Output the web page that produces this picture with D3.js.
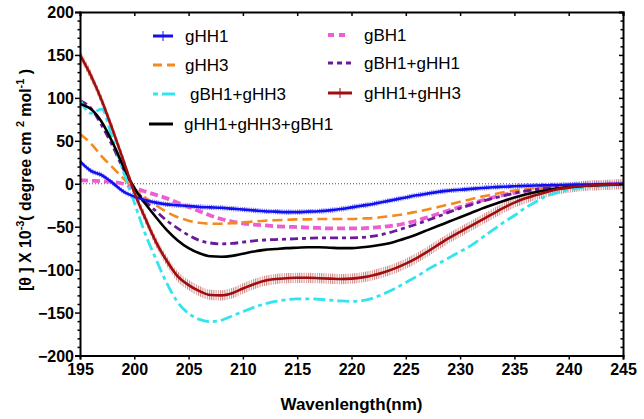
<!DOCTYPE html>
<html><head><meta charset="utf-8">
<script src="https://cdn.jsdelivr.net/npm/d3@7"></script>
<style>body{margin:0;background:#fff} svg{display:block} text{font-family:"Liberation Sans",Arial,sans-serif}</style>
</head><body><svg id="c" width="644" height="419"></svg>
<script>
const wavelength = [195,196,197,198,199,200,201,202,203,204,205,206,207,208,209,210,211,212,213,214,215,216,217,218,219,220,221,222,223,224,225,226,227,228,229,230,231,232,233,234,235,236,237,238,239,240,241,242,243,244,245];
const gHH1 = [26,15,10,1,-9,-15,-19,-22,-24,-25,-26,-27,-27.5,-28,-29,-30,-31,-32,-32.5,-33,-33,-32.5,-32,-31,-29.5,-27.5,-25.5,-23.5,-21,-18.5,-16,-13.5,-11.5,-9.5,-8,-7,-6,-5,-4,-3.5,-3,-2.5,-2,-1.8,-1.5,-1.2,-1,-0.8,-0.5,-0.3,0];
const gHH3 = [58,47,32,19,6,-6,-16,-25,-33,-39,-43,-45.5,-46.5,-46.5,-46,-45,-44,-43,-42.5,-42,-41.5,-41.5,-41,-41,-41,-41,-40.5,-40,-38.5,-37,-35,-32.5,-30,-27,-24,-21,-18,-15,-12.5,-10,-8,-6.5,-5,-4,-3,-2,-1.5,-1,-0.5,-0.3,0];
const gBH1_gHH3 = [98,82,87,52,14,-22,-58,-88,-116,-138,-151,-158,-160.5,-159,-154,-149,-144,-140,-137,-135,-134,-134,-134.5,-135.5,-136.5,-137,-136,-133,-128,-122,-115,-108,-100,-93,-86,-79,-72,-63,-54,-45,-37,-28,-21,-14,-10,-7,-5,-3.5,-2.5,-1.5,-1];
const gHH1_gHH3_gBH1 = [93,87,72,48,20,-5,-23,-39,-54,-66,-75,-81,-84.5,-85,-84,-81.5,-79,-77,-76,-75,-74.5,-74,-74,-74.5,-75,-75,-74,-72.5,-70.5,-67.5,-63.5,-59,-54,-49,-44,-39,-34,-29,-24.5,-20,-16,-12.5,-9.5,-7.5,-5.5,-4,-3,-2,-1.5,-1,-0.5];
const gBH1 = [4,3.5,3,2,0,-5,-9,-13,-17,-22,-27,-32,-37,-41,-44,-46,-47.5,-48.5,-49.5,-50,-50.5,-51,-51.5,-52,-52,-52,-52,-51,-50,-48.5,-46,-43,-39,-35,-31,-27,-23,-19.5,-16,-13,-10.5,-8,-6.5,-5,-3.5,-2.5,-2,-1.5,-1,-0.5,0];
const gBH1_gHH1 = [97,88,68,44,17,-5,-20,-32,-43,-52,-60,-66,-69,-70,-69.5,-68,-66.5,-65.5,-65,-64.5,-64,-63.5,-63,-63,-63,-63,-62.5,-61,-58.5,-55,-51,-47,-42.5,-38,-33,-28.5,-24.5,-20.5,-17,-14,-11,-8.5,-6.5,-5,-3.5,-2.5,-2,-1.5,-1,-0.5,0];
const gHH1_gHH3 = [150,126,97,63,27,-10,-40,-68,-90,-108,-118,-125,-129.5,-130,-127.5,-122,-117,-113,-111,-110,-109.5,-109.5,-110,-110.5,-111,-110.5,-109,-106.5,-103,-98.5,-93,-86.5,-79,-71,-63,-56,-49,-42,-35,-28,-22,-17,-13,-9.5,-6.5,-4.5,-3,-2,-1.5,-1,-0.5];
const gHH1_err = 3;
const gHH1_gHH3_err = 6;
const xTicks = [195,200,205,210,215,220,225,230,235,240,245];
const yTicks = [-200,-150,-100,-50,0,50,100,150,200];
const yMinor = [-190,-180,-170,-160,-140,-130,-120,-110,-90,-80,-70,-60,-40,-30,-20,-10,10,20,30,40,60,70,80,90,110,120,130,140,160,170,180,190];
const seriesNames = ["gHH1","gHH3","gBH1+gHH3","gHH1+gHH3+gBH1","gBH1","gBH1+gHH1","gHH1+gHH3"];

const svg = d3.select("#c");
const L=80,R=623,T=12,B=355.5;
const x = d3.scaleLinear([195,245],[L,R]);
const y = d3.scaleLinear([-200,200],[B,T]);

const defs = svg.append("defs");
function hatch(id,color){
  const p = defs.append("pattern").attr("id",id).attr("width",2.2).attr("height",6).attr("patternUnits","userSpaceOnUse");
  p.append("rect").attr("width",1).attr("height",6).attr("fill",color);
}
hatch("hb","#7575ff");
hatch("hr","#d08585");

// zero line
svg.append("line").attr("x1",L).attr("x2",R).attr("y1",y(0)).attr("y2",y(0))
  .attr("stroke","#555").attr("stroke-width",1).attr("stroke-dasharray","1,2");

const data = arr => arr.map((v,i)=>({w:wavelength[i],v}));
const line = d3.line().x(d=>x(d.w)).y(d=>y(d.v)).curve(d3.curveMonotoneX);
const area = e => d3.area().x(d=>x(d.w)).y0(d=>y(d.v-e)).y1(d=>y(d.v+e)).curve(d3.curveMonotoneX);

const styles = [
  {vals:gHH1, color:"#1010f0", w:2.6, dash:null},
  {vals:gHH3, color:"#f4891f", w:2.6, dash:"10,5"},
  {vals:gBH1_gHH3, color:"#33e3ee", w:2.8, dash:"12,4,4,4"},
  {vals:gHH1_gHH3_gBH1, color:"#000000", w:2.6, dash:null},
  {vals:gBH1, color:"#ec5ed2", w:3.8, dash:"8,4"},
  {vals:gBH1_gHH1, color:"#6a1a9a", w:2.8, dash:"8,4,4,4"},
  {vals:gHH1_gHH3, color:"#a00d0d", w:2.6, dash:null}
];

svg.append("path").attr("d",area(gHH1_gHH3_err)(data(gHH1_gHH3))).attr("fill","url(#hr)");
svg.append("path").attr("d",area(gHH1_err)(data(gHH1))).attr("fill","url(#hb)");

const order = [4,1,5,2,3,0,6];
order.forEach(i=>{
  const s = styles[i];
  svg.append("path").attr("d",line(data(s.vals))).attr("fill","none")
    .attr("stroke",s.color).attr("stroke-width",s.w)
    .attr("stroke-dasharray",s.dash);
});

// axes
const fontB = g => g.selectAll("text").attr("font-weight","bold").attr("font-size","16px").attr("fill","#000");
const gx = svg.append("g").attr("transform",`translate(0,${B})`)
  .call(d3.axisBottom(x).tickValues(xTicks).tickSize(4).tickPadding(4).tickFormat(d3.format("d")));
fontB(gx);
const gy = svg.append("g").attr("transform",`translate(${L},0)`)
  .call(d3.axisLeft(y).tickValues(yTicks).tickSize(5).tickPadding(1).tickFormat(d3.format("d")));
fontB(gy);
gy.selectAll("text").attr("dy","0.36em");
svg.append("g").attr("transform",`translate(${L},0)`)
  .call(d3.axisLeft(y).tickValues(yMinor).tickSize(2.5).tickFormat("")).select(".domain").remove();
svg.append("g").attr("transform",`translate(0,${T})`)
  .call(d3.axisTop(x).tickValues(xTicks).tickSize(-4).tickFormat(""));
svg.append("g").attr("transform",`translate(${R},0)`)
  .call(d3.axisRight(y).tickValues(yTicks).tickSize(-4).tickFormat(""));
svg.append("g").attr("transform",`translate(${R},0)`)
  .call(d3.axisRight(y).tickValues(yMinor).tickSize(-2.5).tickFormat("")).select(".domain").remove();
svg.selectAll(".domain").attr("stroke","#000").attr("stroke-width",2);
svg.selectAll(".tick line").attr("stroke","#000").attr("stroke-width",1.5);

// axis titles
svg.append("text").attr("x",(L+R)/2).attr("y",410).attr("text-anchor","middle")
  .attr("font-weight","bold").attr("font-size","17px").text("Wavenlength(nm)");
const yt = svg.append("text").attr("transform","translate(31,180) rotate(-90)").attr("text-anchor","middle")
  .attr("font-weight","bold").attr("font-size","16px")
  .attr("textLength",222).attr("lengthAdjust","spacingAndGlyphs");
yt.append("tspan").text("[θ ] X 10");
yt.append("tspan").attr("dy",-7).attr("font-size","11px").text("-3");
yt.append("tspan").attr("dy",7).text("( degree cm ");
yt.append("tspan").attr("dy",-7).attr("font-size","11px").text("2");
yt.append("tspan").attr("dy",7).text(" mol");
yt.append("tspan").attr("dy",-7).attr("font-size","11px").text("-1");
yt.append("tspan").attr("dy",7).text(" )");

// legend
const leg = [
  {i:0,x1:153,x2:173,tx:185,y:36},
  {i:1,x1:153,x2:175,tx:185,y:65},
  {i:2,x1:153,x2:175,tx:190,y:94},
  {i:3,x1:149,x2:173,tx:184,y:124},
  {i:4,x1:328,x2:350,tx:364,y:35},
  {i:5,x1:328,x2:352,tx:364,y:63},
  {i:6,x1:328,x2:352,tx:364,y:93}
];
const legDash = ["", "9,5", "5,4,13,0", "", "6,5", "5,4", ""];
leg.forEach(l=>{
  const s = styles[l.i];
  svg.append("line").attr("x1",l.x1).attr("x2",l.x2).attr("y1",l.y).attr("y2",l.y)
    .attr("stroke",s.color).attr("stroke-width",l.i===4?4:3).attr("stroke-dasharray",legDash[l.i]||null);
  if(l.i===0||l.i===6){
    const cx=(l.x1+l.x2)/2;
    svg.append("line").attr("x1",cx).attr("x2",cx).attr("y1",l.y-5).attr("y2",l.y+5)
      .attr("stroke",s.color).attr("stroke-width",1);
  }
  svg.append("text").attr("x",l.tx).attr("y",l.y).attr("dy","0.36em").attr("font-size","17px")
    .attr("fill","#000").text(seriesNames[l.i]);
});
</script></body></html>
